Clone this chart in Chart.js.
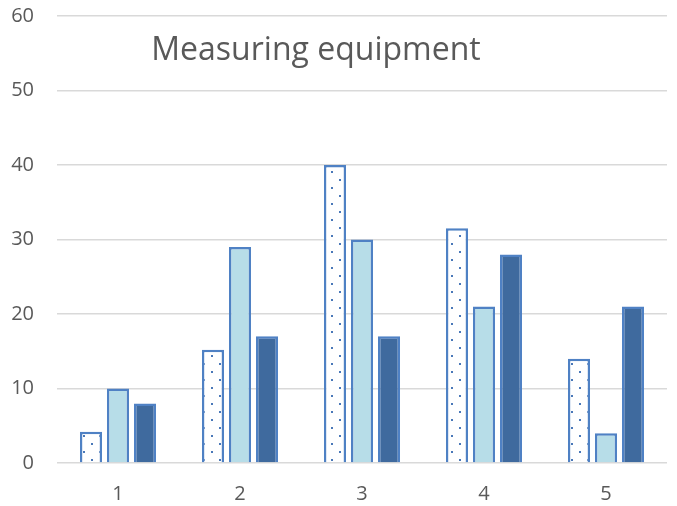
<!DOCTYPE html>
<html>
<head>
<meta charset="utf-8">
<script src="https://cdn.jsdelivr.net/npm/chart.js@4/dist/chart.umd.min.js"></script>
<style>
  html, body { margin: 0; padding: 0; background: #ffffff; }
  #wrap { width: 677px; height: 506px; }
</style>
</head>
<body>
<div id="wrap"><canvas id="c" width="677" height="506"></canvas></div>
<script>
const categories = ['1', '2', '3', '4', '5'];
const seriesDotted = [4.2, 15.2, 40, 31.5, 14];
const seriesLight = [10, 29, 30, 21, 4];
const seriesDark = [8, 17, 17, 28, 21];
const yTicks = [0, 10, 20, 30, 40, 50, 60];
const chartTitle = 'Measuring equipment';

// white tile with a staggered blue dot grid
function dotPattern() {
  const t = document.createElement('canvas');
  t.width = 16; t.height = 16;
  const g = t.getContext('2d');
  g.fillStyle = '#ffffff';
  g.fillRect(0, 0, 16, 16);
  g.fillStyle = '#4a78b8';
  g.fillRect(3, 3, 2, 2);
  g.fillRect(11, 11, 2, 2);
  const ctx = document.getElementById('c').getContext('2d');
  return ctx.createPattern(t, 'repeat');
}

const titlePlugin = {
  id: 'innerTitle',
  afterDraw(chart) {
    const ctx = chart.ctx;
    ctx.save();
    ctx.font = '32px "Open Sans", sans-serif';
    ctx.fillStyle = '#595959';
    ctx.textAlign = 'center';
    ctx.textBaseline = 'middle';
    ctx.fillText(chartTitle, 316, 51);
    ctx.restore();
  }
};

const tickFont = { family: '"Open Sans", sans-serif', size: 20 };
const border = '#4f81c4';
new Chart(document.getElementById('c'), {
  type: 'bar',
  data: {
    labels: categories,
    datasets: [
      { data: seriesDotted, backgroundColor: dotPattern(), borderColor: border, borderWidth: 2.5 },
      { data: seriesLight, backgroundColor: '#b7dde8', borderColor: border, borderWidth: 2.5 },
      { data: seriesDark, backgroundColor: '#3f6a9e', borderColor: border, borderWidth: 2.5 }
    ]
  },
  options: {
    responsive: false,
    animation: false,
    layout: { padding: { top: 16, right: 10, left: 0, bottom: 0 } },
    datasets: { bar: { categoryPercentage: 0.664, barPercentage: 0.82 } },
    plugins: { legend: { display: false }, tooltip: { enabled: false } },
    scales: {
      x: {
        grid: { display: false, drawTicks: false },
        border: { display: false },
        ticks: { color: '#595959', font: tickFont, padding: 19 },
        afterFit(s) { s.height = 43; }
      },
      y: {
        min: 0, max: 60,
        afterBuildTicks(s) { s.ticks = yTicks.map(v => ({ value: v })); },
        grid: { color: '#d9d9d9', lineWidth: 1.5, drawTicks: false },
        border: { display: false },
        ticks: { color: '#595959', font: tickFont, padding: 23 },
        afterFit(s) { s.width = 57; s.paddingTop = 0; }
      }
    }
  },
  plugins: [titlePlugin]
});
</script>
</body>
</html>
